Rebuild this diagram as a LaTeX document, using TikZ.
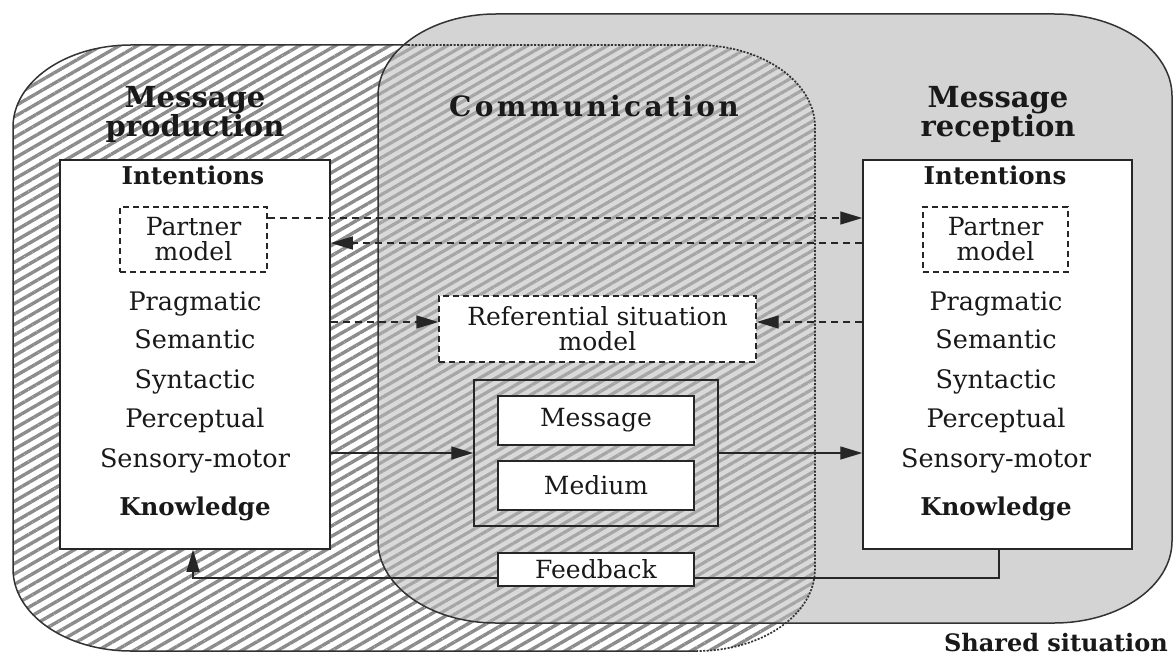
\documentclass[tikz,border=0pt]{standalone}
\usepackage{fontspec}
\setmainfont{DejaVu Serif}
\usetikzlibrary{arrows.meta,patterns.meta,calc}
\newcommand\myRegA{(13,127) arc[start angle=180,end angle=270,x radius=118,y radius=82] -- (697,45) arc[start angle=270,end angle=360,x radius=118,y radius=82] -- (815,569) arc[start angle=0,end angle=90,x radius=118,y radius=82] -- (131,651) arc[start angle=90,end angle=180,x radius=118,y radius=82] -- cycle}
\newcommand\myRegB{(378,96) arc[start angle=180,end angle=270,x radius=118,y radius=82] -- (1054,14) arc[start angle=270,end angle=360,x radius=118,y radius=82] -- (1172,541) arc[start angle=0,end angle=90,x radius=118,y radius=82] -- (496,623) arc[start angle=90,end angle=180,x radius=118,y radius=82] -- cycle}
\begin{document}
\begin{tikzpicture}[x=1pt,y=-1pt,
  body/.style={font=\fontsize{25.5}{25}\selectfont, inner sep=0pt, anchor=base, text=black!90},
  head/.style={font=\fontsize{29}{30}\selectfont\bfseries, inner sep=0pt, anchor=base, text=black!90},
  sub/.style={font=\fontsize{24.5}{26}\selectfont\bfseries, inner sep=0pt, anchor=base, text=black!90},
  border/.style={draw=black!80, line width=1.5pt},
  dotborder/.style={draw=black!80, line width=1.7pt, dash pattern=on 2pt off 1.5pt},
  bigbox/.style={draw=black!85, line width=1.5pt, fill=white, inner sep=0pt},
  box/.style={draw=black!85, line width=1.5pt, fill=white, inner sep=0pt, align=center,
     font=\fontsize{25}{25}\selectfont, text=black!90},
  dbox/.style={box, dash pattern=on 6pt off 4pt, line width=1.4pt},
  conn/.style={draw=black!85, line width=1.4pt},
  dconn/.style={conn, dash pattern=on 7pt off 5pt},
  tip/.tip={Triangle[length=22pt,width=13pt]}
]
\useasboundingbox (0,0) rectangle (1174,655);
\fill[white] (0,0) rectangle (1174,655);
% region fills
\fill[white] \myRegA;
\fill[pattern={Lines[angle=30,distance=9pt,line width=3.4pt]}, pattern color=black!45] \myRegA;
\fill[black!17] \myRegB;
\begin{scope}
  \clip \myRegA;
  \fill[black!15] \myRegB;
  \fill[pattern={Lines[angle=30,distance=8pt,line width=3.2pt]}, pattern color=black!35] \myRegB;
\end{scope}
% borders
\draw[border] \myRegB;
\draw[border] (408,45) -- (131,45) arc[start angle=270,end angle=180,x radius=118,y radius=82] -- (13,569) arc[start angle=180,end angle=90,x radius=118,y radius=82] -- (697,651);
\draw[dotborder] (408,45) -- (697,45) arc[start angle=270,end angle=360,x radius=118,y radius=82] -- (815,569) arc[start angle=0,end angle=90,x radius=118,y radius=82];

% headings
\node[head] (hp1) at (195,108) {Message};
\node[head] (hp2) at (195,137) {production};
\node[head] (hr1) at (998,108) {Message};
\node[head] (hr2) at (998,137) {reception};
\node[head, font=\fontsize{28}{30}\selectfont\bfseries\addfontfeature{LetterSpace=12}] (hc) at (594,117) {Communication};
\node[head, font=\fontsize{24}{26}\selectfont\bfseries, anchor=base east] (hs) at (1168,651) {Shared situation};

% big boxes
\node[bigbox, minimum width=270pt, minimum height=389pt] (lbox) at (195,354.5) {};
\node[bigbox, minimum width=269pt, minimum height=389pt] (rbox) at (997.5,354.5) {};

\node[sub] (li) at (193,185) {Intentions};
\node[sub] (ri) at (995,185) {Intentions};
\node[dbox, minimum width=147pt, minimum height=65pt] (lpm) at (193.5,239.5) {Partner\\model};
\node[dbox, minimum width=145pt, minimum height=65pt] (rpm) at (995.5,239.5) {Partner\\model};
\foreach \t/\y/\n in {Pragmatic/310/a,Semantic/348/b,Syntactic/388/c,Perceptual/427/d,Sensory-motor/467/e}{
  \node[body] (L\n) at (195,\y) {\t};
  \node[body] (R\n) at (996,\y) {\t};
}
\node[sub] (lk) at (195,515) {Knowledge};
\node[sub] (rk) at (996,515) {Knowledge};

% center boxes
\node[dbox, minimum width=317pt, minimum height=66pt] (ref) at (597.5,329) {Referential situation\\model};
\node[bigbox, fill=none, minimum width=244pt, minimum height=146pt] (mm) at (596,453) {};
\node[box, minimum width=196pt, minimum height=49pt] (msg) at (596,420.5) {Message};
\node[box, minimum width=196pt, minimum height=49pt] (med) at (596,485.5) {Medium};
\node[box, minimum width=196pt, minimum height=33pt] (fb) at (596,569.5) {Feedback};

% helper coordinates
\coordinate (yA) at (0,218);
\coordinate (yB) at (0,243);
\coordinate (yC) at (0,322);
\coordinate (fbY) at (0,578);
\coordinate (fbX) at (999,0);
\coordinate (fbL) at (193,0);

% connectors
\draw[dconn,-{tip}] (lpm.east |- yA) -- (rbox.west |- yA);
\draw[dconn,-{tip}] (rbox.west |- yB) -- (lbox.east |- yB);
\draw[dconn,-{tip}] (lbox.east |- yC) -- (ref.west |- yC);
\draw[dconn,-{tip}] (rbox.west |- yC) -- (ref.east |- yC);
\draw[conn,-{tip}] (lbox.east |- mm.west) -- (mm.west);
\draw[conn,-{tip}] (mm.east) -- (rbox.west |- mm.east);
\draw[conn] (rbox.south -| fbX) -- (fbX |- fbY) -- (fb.east |- fbY);
\draw[conn,-{tip}] (fb.west |- fbY) -- (fbL |- fbY) -- (lbox.south -| fbL);
\end{tikzpicture}
\end{document}
